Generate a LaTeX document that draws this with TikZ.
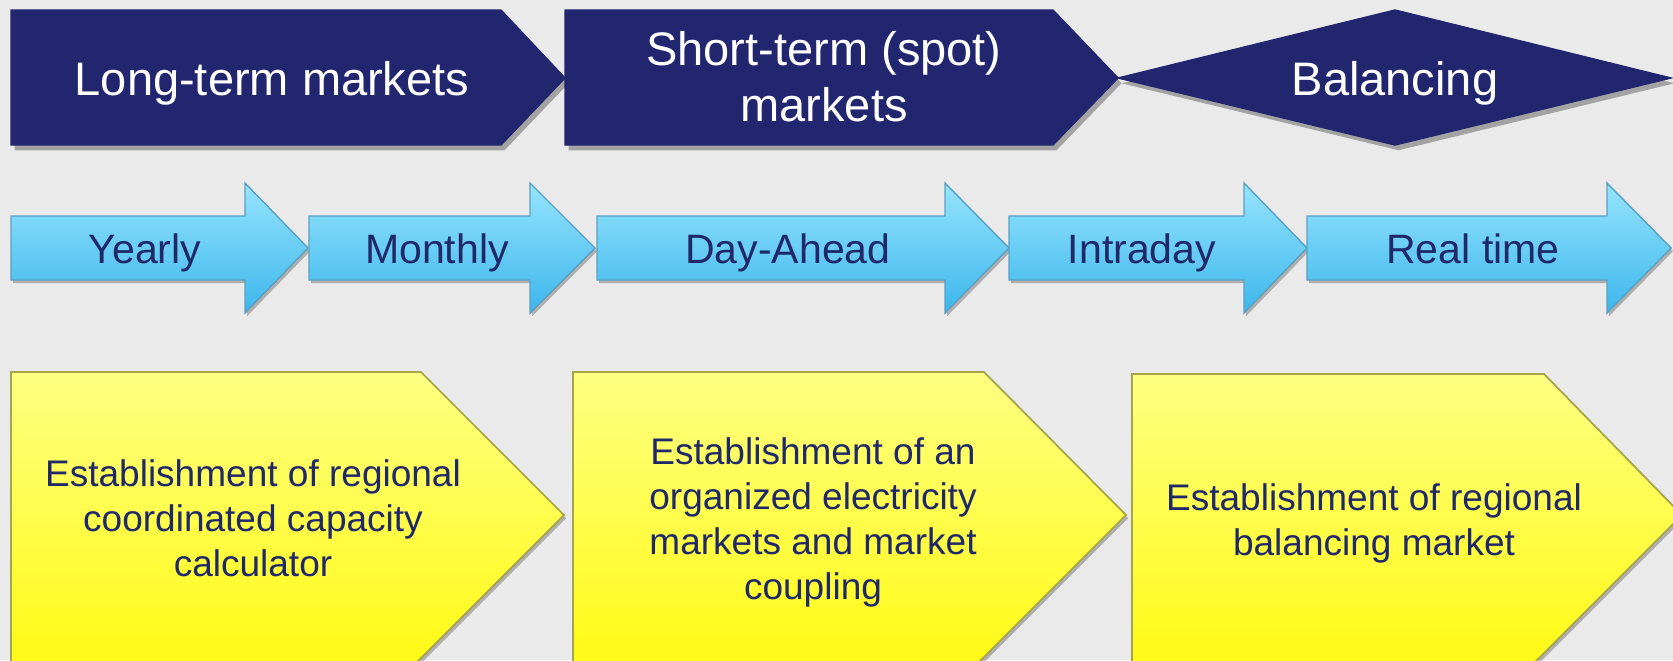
\documentclass[tikz,border=0pt]{standalone}
\usepackage{fontspec}
\setmainfont{Liberation Sans}
\usetikzlibrary{shadows,positioning}
\definecolor{navy}{RGB}{33,38,110}
\definecolor{inknavy}{RGB}{31,40,104}
\definecolor{paper}{RGB}{234,234,234}
\definecolor{skytop}{RGB}{150,228,252}
\definecolor{skybot}{RGB}{60,182,236}
\definecolor{skyline}{RGB}{90,160,195}
\definecolor{lemtop}{RGB}{255,255,130}
\definecolor{lembot}{RGB}{255,250,20}
\definecolor{lemline}{RGB}{165,165,75}
\tikzset{
  phase/.style={fill=navy,draw=navy,line width=0.4pt,
    drop shadow={shadow xshift=1pt,shadow yshift=-1.5pt,fill=black,opacity=0.3}},
  phasetext/.style={text=white,inner sep=0pt,align=center,
    font=\fontsize{13.37}{15.9}\selectfont},
  horizon/.style={top color=skytop,bottom color=skybot,draw=skyline,line width=0.4pt,
    drop shadow={shadow xshift=0.6pt,shadow yshift=-0.9pt,fill=black,opacity=0.25}},
  horizontext/.style={text=inknavy,inner sep=0pt,
    font=\fontsize{11.67}{14}\selectfont},
  goal/.style={top color=lemtop,bottom color=lembot,draw=lemline,line width=0.5pt,
    drop shadow={shadow xshift=0.6pt,shadow yshift=-0.9pt,fill=black,opacity=0.25}},
  goaltext/.style={text=inknavy,inner sep=0pt,align=center,
    font=\fontsize{10.53}{12.8}\selectfont}
}
\begin{document}
\begin{tikzpicture}[x=0.01cm,y=-0.01cm]
  \fill[paper] (0,0) rectangle (1673,660);
  \useasboundingbox (0,0) rectangle (1673,660);
  \clip (0,0) rectangle (1673,660);

  % market phases
  \path[phase] (11,10) -- (501,10) -- (565,78) -- (501,145) -- (11,145) -- cycle;
  \path[phase] (565,10) -- (1053,10) -- (1118,78) -- (1053,145) -- (565,145) -- cycle;
  \path[phase] (1118,78) -- (1395,10) -- (1671,78) -- (1395,145) -- cycle;
  \node (LT) at (272,95) [phasetext,anchor=base] {Long-term markets};
  \node (ST) at (824,77) [phasetext] {Short-term (spot)\\markets};
  \node (BAL) at (1395,95) [phasetext,anchor=base] {Balancing};

  % time frames
  \path[horizon] (11,216) -- (245,216) -- (245,183) -- (308,248) -- (245,313) -- (245,280) -- (11,280) -- cycle;
  \path[horizon] (309,216) -- (530,216) -- (530,183) -- (595,248) -- (530,313) -- (530,280) -- (309,280) -- cycle;
  \path[horizon] (597,216) -- (945,216) -- (945,183) -- (1009,248) -- (945,313) -- (945,280) -- (597,280) -- cycle;
  \path[horizon] (1009,216) -- (1244,216) -- (1244,183) -- (1307,248) -- (1244,313) -- (1244,280) -- (1009,280) -- cycle;
  \path[horizon] (1307,216) -- (1607,216) -- (1607,183) -- (1671,248) -- (1607,313) -- (1607,280) -- (1307,280) -- cycle;
  \node (Y) at (145,263) [horizontext,anchor=base] {Yearly};
  \node (M) at (437,263) [horizontext,anchor=base] {Monthly};
  \node (DA) at (788,263) [horizontext,anchor=base] {Day-Ahead};
  \node (ID) at (1142,263) [horizontext,anchor=base] {Intraday};
  \node (RT) at (1473,263) [horizontext,anchor=base] {Real time};

  % goals
  \path[goal] (11,372) -- (421,372) -- (564,515) -- (414,665) -- (11,665) -- cycle;
  \path[goal] (573,372) -- (984,372) -- (1126,515) -- (976,665) -- (573,665) -- cycle;
  \path[goal] (1132,374) -- (1544,374) -- (1682,515) -- (1532,665) -- (1132,665) -- cycle;
  \node (G1) at (253,518) [goaltext] {Establishment of regional\\coordinated capacity\\calculator};
  \node (G2) at (813,522) [goaltext] {Establishment of an\\organized electricity\\markets and market\\coupling};
  \node (G3) at (1374,523) [goaltext] {Establishment of regional\\balancing market};
\end{tikzpicture}
\end{document}
